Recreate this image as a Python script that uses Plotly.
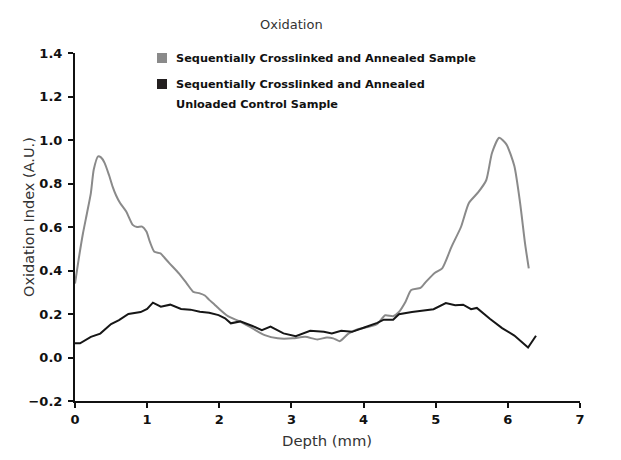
import plotly.graph_objects as go

# Data
annealed_depth = [0.00, 0.05, 0.11, 0.17, 0.22, 0.26, 0.32, 0.36, 0.41, 0.47, 0.52, 0.57, 0.625, 0.71,
                  0.80, 0.86, 0.93, 0.99, 1.04, 1.10, 1.185, 1.25, 1.31, 1.44, 1.55, 1.64, 1.73, 1.80,
                  1.86, 1.93, 1.99, 2.12, 2.29, 2.46, 2.63, 2.81, 3.02, 3.19, 3.36, 3.49, 3.58, 3.67,
                  3.79, 3.92, 4.06, 4.19, 4.30, 4.41, 4.49, 4.58, 4.66, 4.79, 4.87, 4.99, 5.09, 5.22,
                  5.35, 5.46, 5.59, 5.70, 5.78, 5.88, 5.98, 6.09, 6.17, 6.24, 6.29]
annealed_ox = [0.34, 0.45, 0.57, 0.67, 0.756, 0.864, 0.925, 0.92, 0.895, 0.84, 0.787, 0.745, 0.71, 0.671,
               0.61, 0.60, 0.602, 0.579, 0.53, 0.486, 0.479, 0.455, 0.433, 0.387, 0.34, 0.302, 0.295, 0.285,
               0.265, 0.245, 0.226, 0.19, 0.165, 0.134, 0.103, 0.088, 0.088, 0.095, 0.083, 0.092, 0.088, 0.075,
               0.11, 0.13, 0.14, 0.155, 0.194, 0.19, 0.209, 0.255, 0.31, 0.32, 0.35, 0.39, 0.41, 0.51,
               0.60, 0.71, 0.76, 0.815, 0.94, 1.01, 0.98, 0.88, 0.71, 0.52, 0.41]

control_depth = [0.00, 0.07, 0.22, 0.35, 0.50, 0.61, 0.74, 0.91, 1.00, 1.08, 1.19, 1.32, 1.47, 1.60,
                 1.73, 1.86, 1.99, 2.08, 2.16, 2.29, 2.46, 2.59, 2.71, 2.89, 3.06, 3.26, 3.45, 3.56,
                 3.69, 3.84, 4.01, 4.19, 4.28, 4.41, 4.49, 4.67, 4.97, 5.14, 5.27, 5.38, 5.49, 5.57,
                 5.75, 5.92, 6.09, 6.28, 6.39]
control_ox = [0.065, 0.065, 0.095, 0.11, 0.154, 0.172, 0.20, 0.209, 0.223, 0.252, 0.234, 0.243, 0.223, 0.22,
              0.21, 0.206, 0.195, 0.18, 0.157, 0.166, 0.145, 0.126, 0.142, 0.111, 0.098, 0.123, 0.118, 0.111,
              0.123, 0.118, 0.138, 0.159, 0.174, 0.174, 0.199, 0.209, 0.222, 0.25, 0.24, 0.243, 0.222, 0.228,
              0.178, 0.135, 0.101, 0.046, 0.10]

x_ticks = [0, 1, 2, 3, 4, 5, 6, 7]
y_ticks = [-0.2, 0.0, 0.2, 0.4, 0.6, 0.8, 1.0, 1.2, 1.4]

legend_lines = [["Sequentially Crosslinked and Annealed Sample"],
                ["Sequentially Crosslinked and Annealed", "Unloaded Control Sample"]]
series_names = ["Sequentially Crosslinked and Annealed Sample",
                "Sequentially Crosslinked and Annealed Unloaded Control Sample"]
gray = "#8a8a8a"
dark = "#161616"

W, H = 621, 460
L, R, T, B = 75, 41, 53, 59
pw, ph = W - L - R, H - T - B

def px(x):
    return (x - L) / pw

def py(y):
    return (H - B - y) / ph

fig = go.Figure()
fig.add_trace(go.Scatter(x=annealed_depth, y=annealed_ox, mode="lines",
                         line=dict(color=gray, width=2, shape="spline", smoothing=0.6),
                         name=series_names[0], showlegend=False))
fig.add_trace(go.Scatter(x=control_depth, y=control_ox, mode="lines",
                         line=dict(color=dark, width=2),
                         name=series_names[1], showlegend=False))

font_family = "DejaVu Sans, Verdana, sans-serif"

# Legend built from shapes + text
leg_sq = [(157, 53), (157, 79)]
leg_txt_y = [58, 84]
cols = [gray, "#231f20"]
for (sx, sy), ty, c, lines in zip(leg_sq, leg_txt_y, cols, legend_lines):
    fig.add_shape(type="rect", xref="paper", yref="paper",
                  x0=px(sx), x1=px(sx + 10), y0=py(sy + 10), y1=py(sy),
                  fillcolor=c, line=dict(width=0))
    for i, t in enumerate(lines):
        fig.add_annotation(xref="paper", yref="paper", x=px(174), y=py(ty + 20 * i),
                           xanchor="left", yanchor="middle", showarrow=False, align="left",
                           text=t, font=dict(family=font_family, size=11.3, color="#111", weight="bold"))

fig.add_annotation(xref="paper", yref="paper", x=px(291), y=py(15), showarrow=False,
                   text="Oxidation", font=dict(family=font_family, size=13, color="#333"))
fig.add_annotation(xref="paper", yref="paper", x=px(327), y=py(451), showarrow=False,
                   text="Depth (mm)", font=dict(family=font_family, size=14.8, color="#333"))
fig.add_annotation(xref="paper", yref="paper", x=px(19), y=py(217), showarrow=False, textangle=-90,
                   text="Oxidation Index (A.U.)", font=dict(family=font_family, size=14.5, color="#333"))

fig.update_layout(
    width=W, height=H,
    margin=dict(l=L, r=R, t=T, b=B),
    plot_bgcolor="white", paper_bgcolor="white",
    font=dict(family=font_family, color="#111"),
    xaxis=dict(range=[0, 7], tickvals=x_ticks, ticks="outside", ticklen=5, tickwidth=2,
               tickcolor="#111", showline=True, linecolor="#111", linewidth=2, showgrid=False,
               zeroline=False, tickfont=dict(size=13, family=font_family, color="#111", weight="bold")),
    yaxis=dict(range=[-0.2, 1.4], tickvals=y_ticks, tickformat=".1f", ticks="outside", ticklen=5,
               tickwidth=2, tickcolor="#111", showline=True, linecolor="#111", linewidth=2,
               showgrid=False, zeroline=False, ticklabelstandoff=3,
               tickfont=dict(size=13, family=font_family, color="#111", weight="bold")),
)

fig.write_html("out.html")
